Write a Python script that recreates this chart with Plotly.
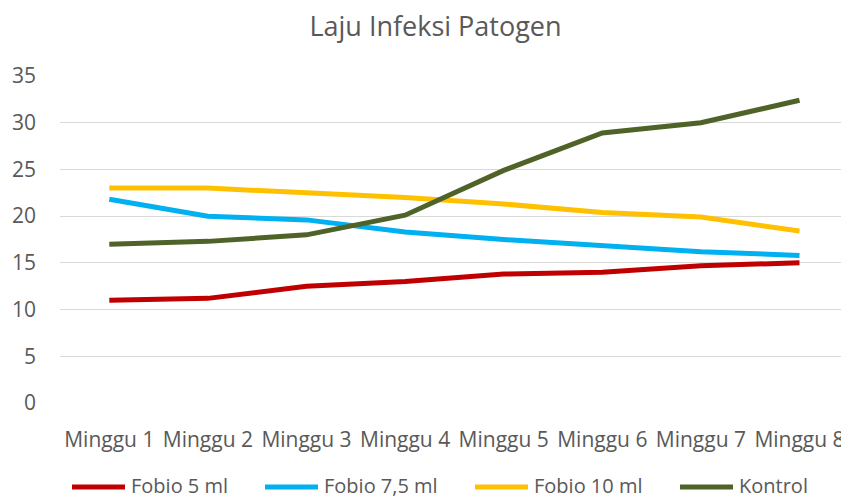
import plotly.graph_objects as go

categories = ["Minggu 1", "Minggu 2", "Minggu 3", "Minggu 4", "Minggu 5", "Minggu 6", "Minggu 7", "Minggu 8"]
fobio_5 = [11.0, 11.2, 12.5, 13.0, 13.8, 14.0, 14.7, 15.0]
fobio_75 = [21.8, 20.0, 19.6, 18.3, 17.5, 16.9, 16.2, 15.8]
fobio_10 = [23.0, 23.0, 22.5, 22.0, 21.3, 20.4, 19.9, 18.4]
kontrol = [17.0, 17.3, 18.0, 20.1, 24.9, 28.9, 30.0, 32.4]
series_names = ["Fobio 5 ml", "Fobio 7,5 ml", "Fobio 10 ml", "Kontrol"]
series_colors = ["#C00000", "#00B0F0", "#FFC000", "#4F6228"]
y_ticks = [0, 5, 10, 15, 20, 25, 30, 35]

W, H = 841, 499
L, R, T, B = 60, 0, 76, 96
FONT = "Open Sans, sans-serif"
GREY = "#595959"

fig = go.Figure()
for name, vals, col in zip(series_names, [fobio_5, fobio_75, fobio_10, kontrol], series_colors):
    fig.add_trace(go.Scatter(x=list(range(len(categories))), y=vals, name=name, mode="lines",
                             line=dict(color=col, width=5), showlegend=False))

# manual legend (Excel-style long line keys)
pw = W - L - R
ph = H - T - B
def px2x(p):
    return (p - L) / pw
def py2y(p):
    return (H - B - p) / ph

legend_starts = [70, 263, 473, 678]
key_len = 57
leg_y = 486
for name, col, x0 in zip(series_names, series_colors, legend_starts):
    fig.add_shape(type="line", xref="paper", yref="paper",
                  x0=px2x(x0 + 2), x1=px2x(x0 + key_len - 2), y0=py2y(leg_y + 1), y1=py2y(leg_y + 1),
                  line=dict(color=col, width=5))
    fig.add_annotation(text=name, xref="paper", yref="paper", x=px2x(x0 + key_len + 2), y=py2y(leg_y),
                       xanchor="left", yanchor="middle", showarrow=False,
                       font=dict(family=FONT, size=20, color=GREY))

fig.update_layout(
    width=W, height=H,
    margin=dict(l=L, r=R, t=T, b=B, autoexpand=False),
    paper_bgcolor="white", plot_bgcolor="white",
    title=dict(text="Laju Infeksi Patogen", x=435.5 / W, xanchor="center", y=1 - 27 / H, yanchor="middle",
               xref="container", yref="container",
               font=dict(family=FONT, size=27, color=GREY)),
    font=dict(family=FONT, color=GREY, size=21),
    showlegend=False,
    xaxis=dict(tickmode="array", tickvals=list(range(len(categories))), ticktext=categories,
               range=[-0.5, -0.5 + pw / 98.6], showgrid=False, zeroline=False, showline=False,
               ticks="", ticklabelstandoff=22, automargin=False, ticklabeloverflow="allow",
               tickfont=dict(family=FONT, size=21, color=GREY)),
    yaxis=dict(range=[0, 35], tickvals=y_ticks, showgrid=True, gridcolor="#D9D9D9", gridwidth=1.3,
               zeroline=False, showline=False, ticks="", ticklabelstandoff=23, automargin=False,
               tickfont=dict(family=FONT, size=21, color=GREY)),
)
fig.write_html("out.html", config={"displayModeBar": False},
               post_script="document.body.style.margin='0px';document.body.style.overflow='hidden';")
